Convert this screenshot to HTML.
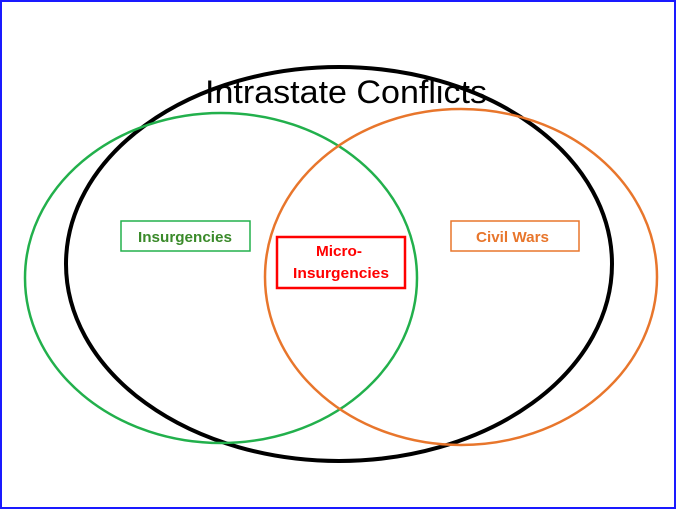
<!DOCTYPE html>
<html><head><style>
html,body{margin:0;padding:0;background:#fff}
svg{display:block}
text{font-family:"Liberation Sans",sans-serif}
</style></head><body>
<svg width="676" height="509" viewBox="0 0 676 509" xmlns="http://www.w3.org/2000/svg">
<rect x="1" y="1" width="674" height="507" fill="#fff" stroke="#1a1aff" stroke-width="2"/>
<ellipse cx="339" cy="264" rx="273" ry="197" fill="none" stroke="#000" stroke-width="4"/>
<ellipse cx="221" cy="278" rx="196" ry="165" fill="none" stroke="#22b04c" stroke-width="2.5"/>
<ellipse cx="461" cy="277" rx="196" ry="168" fill="none" stroke="#e8762c" stroke-width="2.5"/>
<text x="205" y="103" font-size="32" textLength="282" lengthAdjust="spacingAndGlyphs" fill="#000">Intrastate Conflicts</text>
<rect x="121" y="221" width="129" height="30" fill="#fff" stroke="#22b04c" stroke-width="1.5"/>
<text x="138" y="242" font-size="15" font-weight="bold" textLength="94" lengthAdjust="spacingAndGlyphs" fill="#3a8a2a">Insurgencies</text>
<rect x="277" y="237" width="128" height="51" fill="#fff" stroke="#ff0000" stroke-width="2.5"/>
<text x="316" y="256" font-size="15" font-weight="bold" textLength="46" lengthAdjust="spacingAndGlyphs" fill="#ff0000">Micro-</text>
<text x="293" y="278" font-size="15" font-weight="bold" textLength="96" lengthAdjust="spacingAndGlyphs" fill="#ff0000">Insurgencies</text>
<rect x="451" y="221" width="128" height="30" fill="#fff" stroke="#e8762c" stroke-width="1.5"/>
<text x="476" y="242" font-size="15" font-weight="bold" textLength="73" lengthAdjust="spacingAndGlyphs" fill="#e8762c">Civil Wars</text>
</svg>
</body></html>
